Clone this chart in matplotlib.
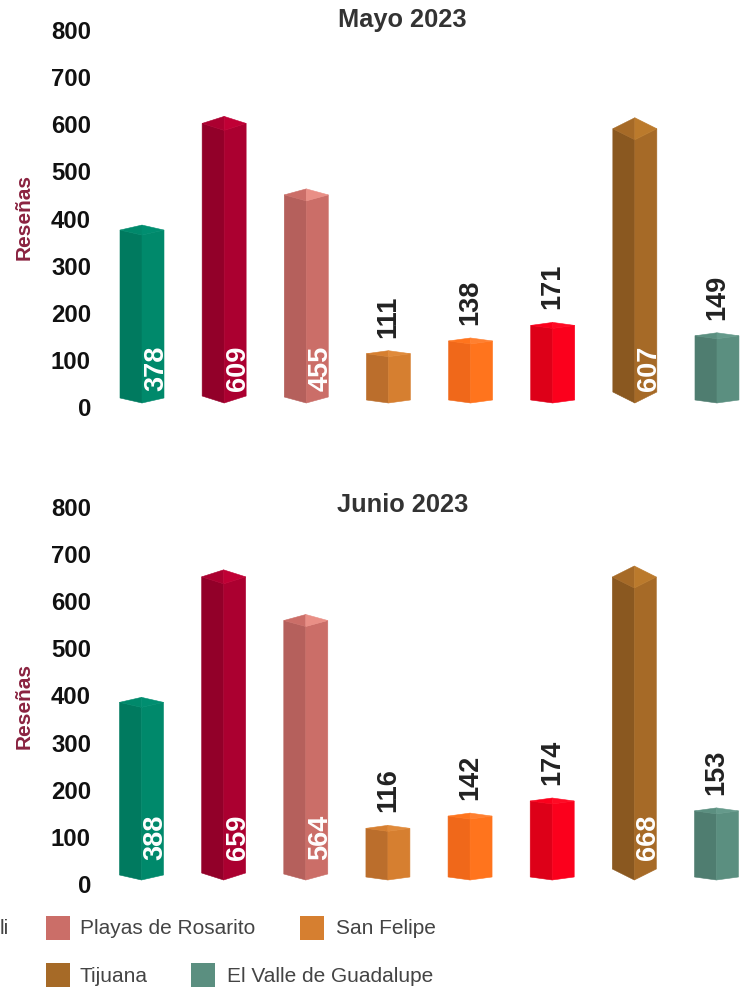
#!/usr/bin/env python

import matplotlib
matplotlib.use("Agg")
import matplotlib.pyplot as plt
from matplotlib.patches import Polygon, Rectangle

plt.rcParams['font.family'] = ['Liberation Sans', 'DejaVu Sans']

W = 744
H = 990

mayo = [378, 609, 455, 111, 138, 171, 607, 149]
junio = [388, 659, 564, 116, 142, 174, 668, 153]
ticks = [0, 100, 200, 300, 400, 500, 600, 700, 800]

# izquierda, derecha, arriba
colores = [("#007a5f", "#00896b", "#008e70"),
           ("#920029", "#ab0030", "#c00035"),
           ("#b5605c", "#cb6e68", "#e98f86"),
           ("#bb6e2c", "#d67f30", "#e08a3a"),
           ("#f0681a", "#ff741d", "#ff8030"),
           ("#dd0018", "#fb001c", "#ff0a24"),
           ("#8a5820", "#a66a27", "#bb7a2c"),
           ("#4f7d70", "#5b8f80", "#659a8b")]
# profundidad de la caja en pixeles
depth = [5, 7, 6, 3, 3, 3, 11, 3]

PX = 377 / 800.0
STEP = 82.14
HALF = 22 / STEP


def px(v):
    return v / PX


def poly(ax, pts, color):
    ax.add_patch(Polygon(pts, closed=True, fc=color, ec=color, lw=0.4, clip_on=False))


def draw_chart(y_zero, values, title, title_y, label_y, x_off, inner_y):
    ax = fig.add_axes([41.0 / W, 1 - y_zero / H, (W - 41.0) / W, 377.0 / H])
    ax.set_xlim((41 - 142 + x_off) / STEP, (W - 142 + x_off) / STEP)
    ax.set_ylim(0, 800)
    ax.patch.set_alpha(0)
    for s in ax.spines.values():
        s.set_visible(False)
    ax.set_xticks([])
    ax.set_yticks(ticks)
    ax.tick_params(axis='y', length=0, pad=-36)
    ax.set_yticklabels(ticks, fontsize=17.2, fontweight='bold', color='#111111', ha='right')
    ax.set_ylabel("Reseñas", fontsize=15, fontweight='bold', color='#8a2340')
    ax.yaxis.set_label_coords(-7.0 / (W - 41.0), (y_zero - label_y) / 377.0)

    for i, v in enumerate(values):
        d = px(depth[i])
        side_top = v - px(1.1 * depth[i] - 4.3)
        front_bot = px(4)
        side_bot = front_bot + d
        left, right, top = colores[i]
        poly(ax, [(i - HALF, side_top), (i, side_top - d), (i, front_bot), (i - HALF, side_bot)], left)
        poly(ax, [(i, side_top - d), (i + HALF, side_top), (i + HALF, side_bot), (i, front_bot)], right)
        poly(ax, [(i - HALF, side_top), (i, side_top + d), (i, side_top - d)], right)
        poly(ax, [(i + HALF, side_top), (i, side_top + d), (i, side_top - d)], top)
        if v > 300:
            ax.text(i + 0.17, px(inner_y), str(v), rotation=90, ha='center', va='center',
                    fontsize=19.5, fontweight='bold', color='white')
        else:
            ax.text(i, v + px(17), str(v), rotation=90, ha='center', va='bottom',
                    fontsize=19.5, fontweight='bold', color='#222222')

    fig.text(402.5 / W, 1 - title_y / H, title, ha='center', va='center',
             fontsize=18.3, fontweight='bold', color='#333333')


fig = plt.figure(figsize=(W / 100.0, H / 100.0), dpi=100, facecolor='white')

draw_chart(407, mayo, "Mayo 2023", 20.5, 217, 0, 39)
draw_chart(884, junio, "Junio 2023", 505, 706, 0.5, 47)

# leyenda: solo se ve "li" de la primera entrada cortada
lax = fig.add_axes([0, 0, 1, 1])
lax.set_xlim(0, W)
lax.set_ylim(H, 0)
lax.axis('off')
lax.patch.set_alpha(0)
legend_labels = ["Playas de Rosarito", "San Felipe", "Tijuana", "El Valle de Guadalupe"]
legend_color = [2, 3, 6, 7]
legend_x = [46, 300, 46, 191]
legend_text_x = [80, 336, 80, 227]
legend_y = [928, 928, 975, 975]
for x, tx, y, k, name in zip(legend_x, legend_text_x, legend_y, legend_color, legend_labels):
    lax.add_patch(Rectangle((x, y - 12), 24, 24, fc=colores[k][1], ec='none'))
    lax.text(tx, y + 1, name, ha='left', va='center', fontsize=15, color='#444444')
lax.text(0, 929, "li", ha='left', va='center', fontsize=15, color='#444444')

plt.savefig('out.png', dpi=100)
